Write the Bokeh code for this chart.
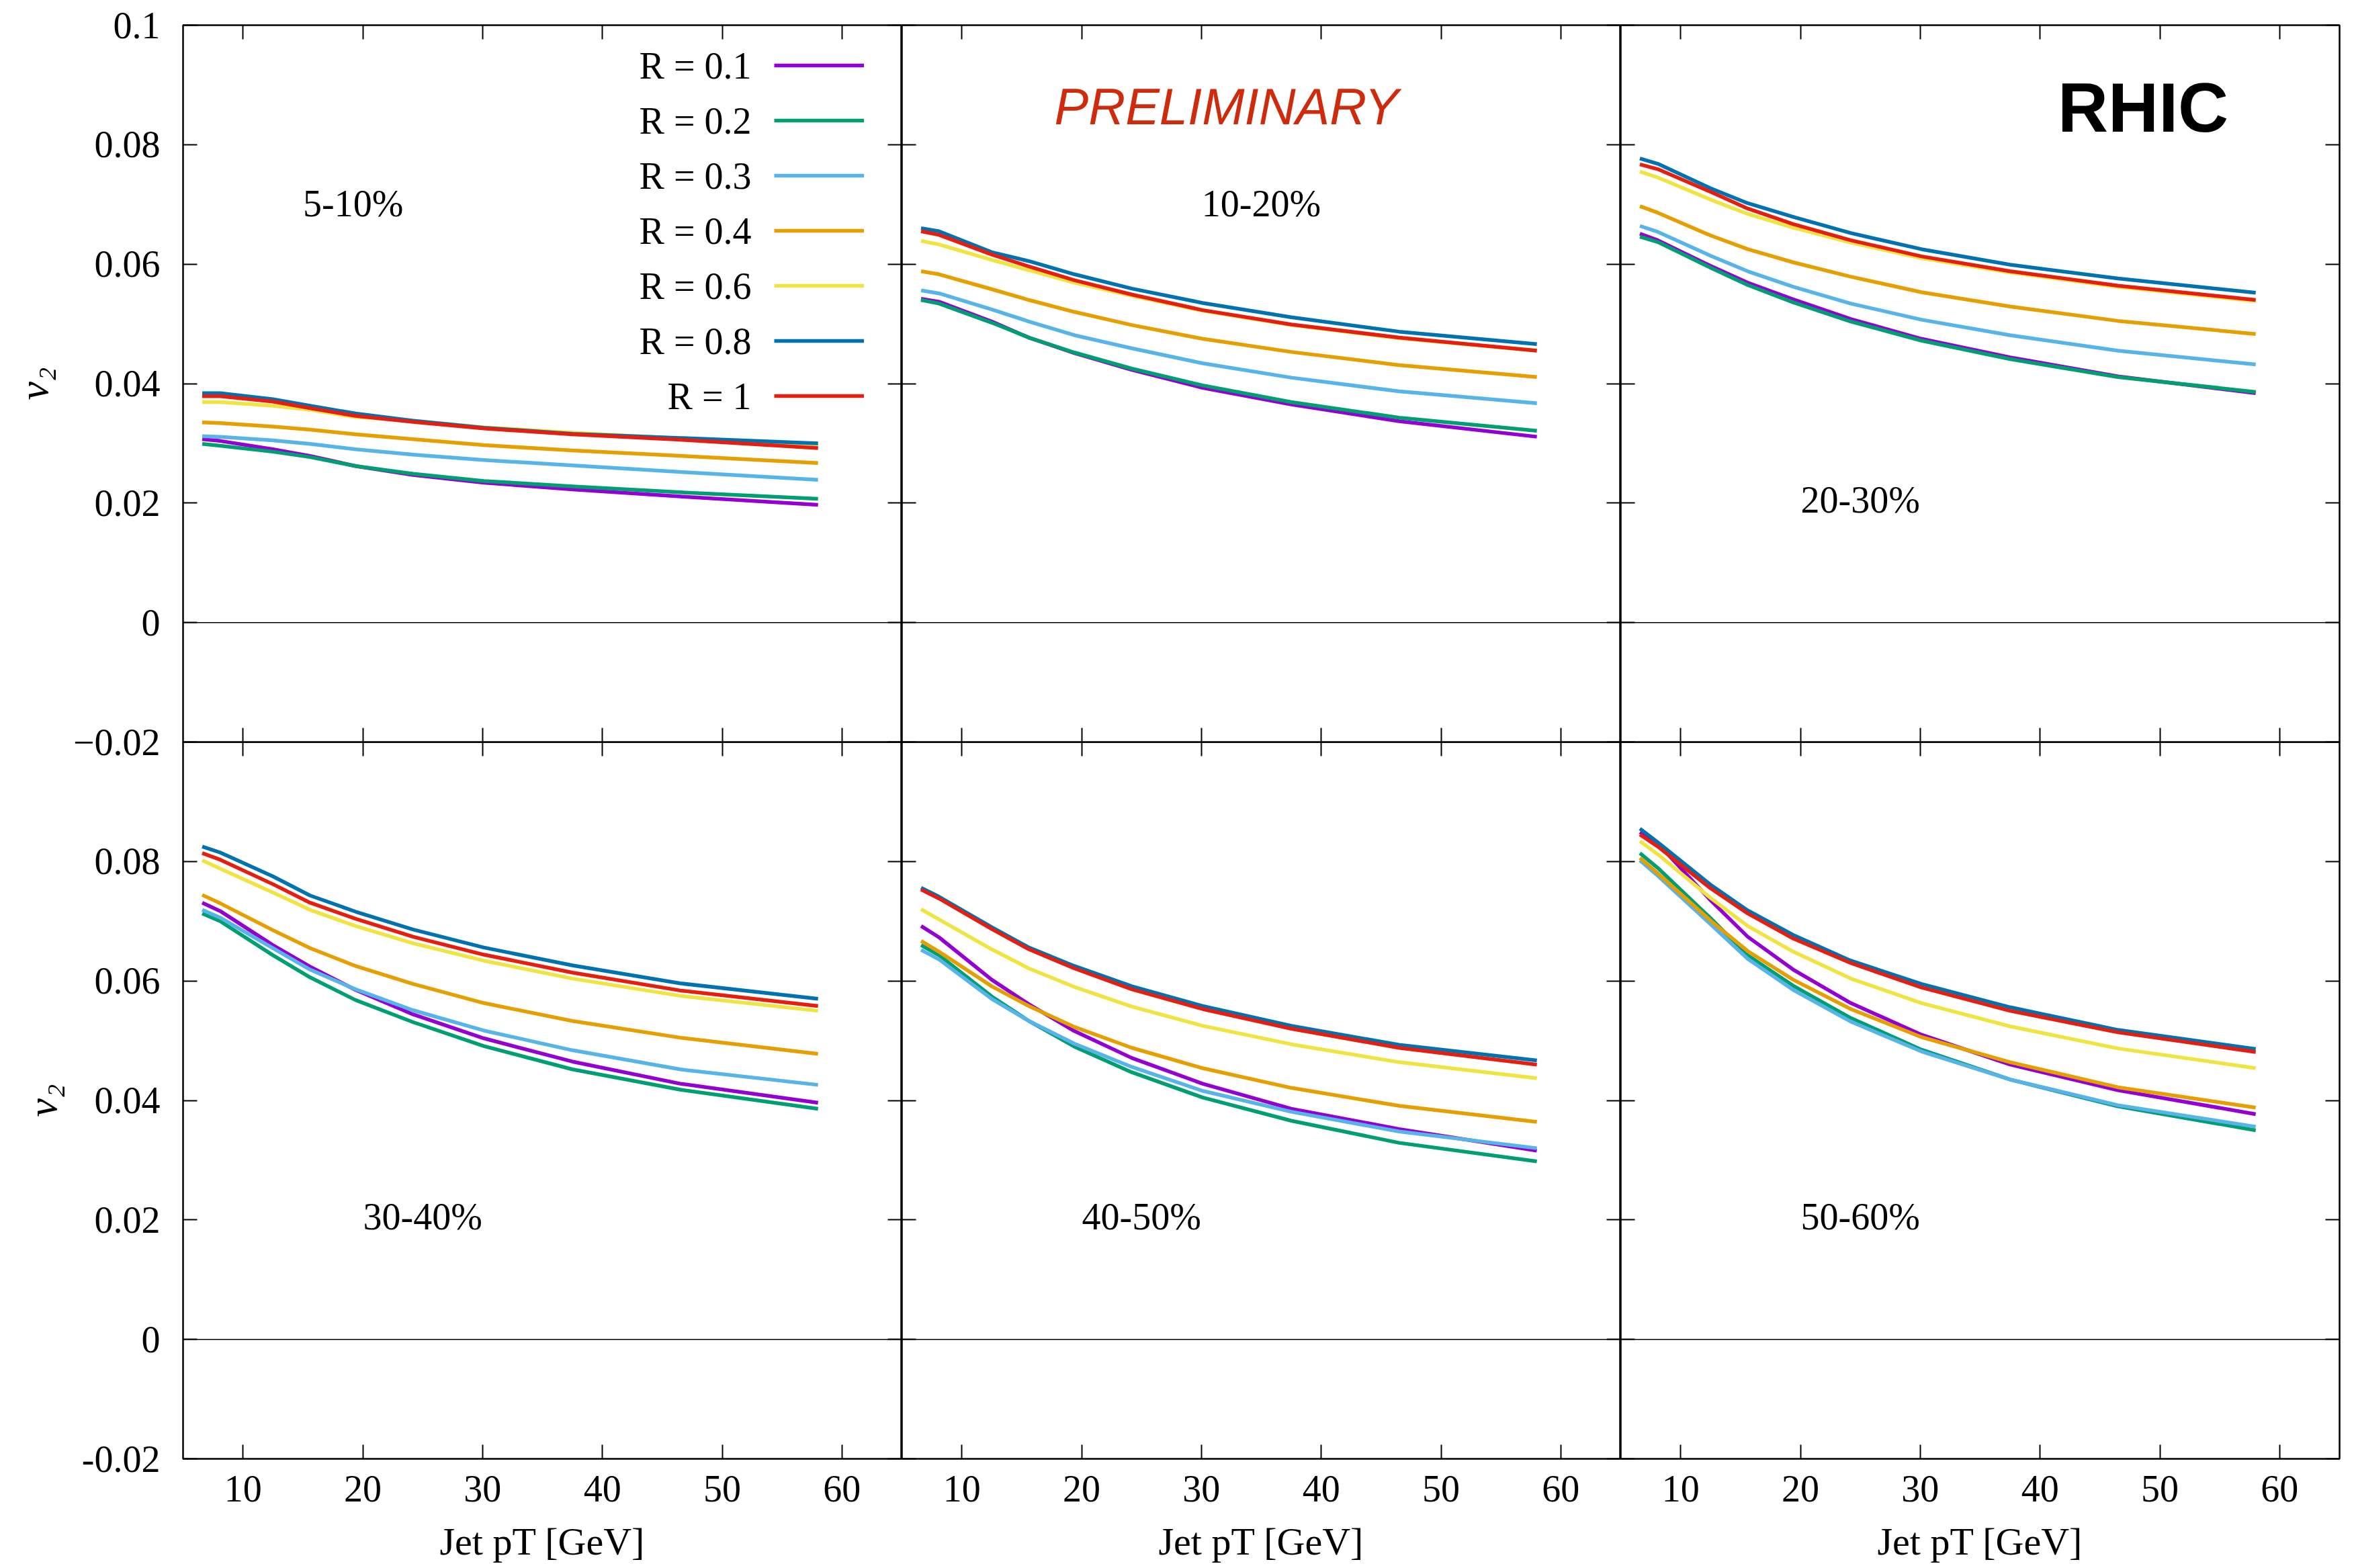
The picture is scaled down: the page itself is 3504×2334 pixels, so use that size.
from bokeh.plotting import figure
from bokeh.layouts import row, column
from bokeh.models import (Range1d, FixedTicker, LinearAxis, Span, Label,
                          Legend, LegendItem)
from bokeh.embed import file_html
from bokeh.resources import INLINE

# ---------------- data ----------------
jet_pt = [6.6, 8.1, 12.5, 15.6, 19.4, 24.2, 30.1, 37.5, 46.5, 58.0]
radius_labels = ["R = 0.1", "R = 0.2", "R = 0.3", "R = 0.4", "R = 0.6", "R = 0.8", "R = 1"]
line_colors = ["#9400d3", "#009e73", "#56b4e9", "#e69f00", "#f0e442", "#0072b2", "#e51e10"]
centralities = ["5-10%", "10-20%", "20-30%", "30-40%", "40-50%", "50-60%"]
x_ticks = [10, 20, 30, 40, 50, 60]
y_ticks = [-0.02, 0, 0.02, 0.04, 0.06, 0.08, 0.1]
y_tick_text_top = {0.1: "0.1", 0.08: "0.08", 0.06: "0.06", 0.04: "0.04", 0.02: "0.02", 0: "0", -0.02: "\u22120.02"}
y_tick_text_bottom = {0.1: "", 0.08: "0.08", 0.06: "0.06", 0.04: "0.04", 0.02: "0.02", 0: "0", -0.02: "-0.02"}

# v2 for R = 0.1, 0.2, 0.3, 0.4, 0.6, 0.8, 1 (one list per radius)
v2_5_10 = [
    [0.0307, 0.0304, 0.0290, 0.0279, 0.0262, 0.0247, 0.0234, 0.0223, 0.0211, 0.0197],
    [0.0299, 0.0296, 0.0286, 0.0277, 0.0262, 0.0249, 0.0237, 0.0228, 0.0218, 0.0207],
    [0.0312, 0.0311, 0.0305, 0.0299, 0.0290, 0.0281, 0.0272, 0.0263, 0.0252, 0.0239],
    [0.0335, 0.0334, 0.0328, 0.0323, 0.0315, 0.0307, 0.0297, 0.0288, 0.0279, 0.0267],
    [0.0369, 0.0369, 0.0363, 0.0356, 0.0344, 0.0338, 0.0327, 0.0318, 0.0308, 0.0296],
    [0.0384, 0.0384, 0.0374, 0.0363, 0.0350, 0.0338, 0.0326, 0.0316, 0.0309, 0.0300],
    [0.0379, 0.0379, 0.0370, 0.0359, 0.0346, 0.0336, 0.0325, 0.0315, 0.0306, 0.0292],
]
v2_10_20 = [
    [0.0542, 0.0537, 0.0504, 0.0477, 0.0451, 0.0423, 0.0393, 0.0365, 0.0337, 0.0311],
    [0.0540, 0.0534, 0.0502, 0.0477, 0.0452, 0.0425, 0.0397, 0.0369, 0.0343, 0.0321],
    [0.0556, 0.0551, 0.0524, 0.0504, 0.0481, 0.0459, 0.0434, 0.0410, 0.0387, 0.0367],
    [0.0588, 0.0583, 0.0558, 0.0540, 0.0520, 0.0498, 0.0475, 0.0453, 0.0431, 0.0411],
    [0.0639, 0.0633, 0.0607, 0.0590, 0.0569, 0.0547, 0.0522, 0.0498, 0.0476, 0.0455],
    [0.0660, 0.0655, 0.0620, 0.0605, 0.0583, 0.0559, 0.0535, 0.0511, 0.0487, 0.0466],
    [0.0655, 0.0649, 0.0616, 0.0596, 0.0573, 0.0549, 0.0523, 0.0499, 0.0477, 0.0455],
]
v2_20_30 = [
    [0.0651, 0.0640, 0.0597, 0.0569, 0.0541, 0.0508, 0.0475, 0.0444, 0.0412, 0.0384],
    [0.0646, 0.0637, 0.0594, 0.0565, 0.0536, 0.0504, 0.0472, 0.0441, 0.0411, 0.0386],
    [0.0664, 0.0654, 0.0614, 0.0588, 0.0562, 0.0534, 0.0507, 0.0481, 0.0455, 0.0432],
    [0.0697, 0.0686, 0.0648, 0.0625, 0.0603, 0.0579, 0.0553, 0.0529, 0.0505, 0.0483],
    [0.0755, 0.0745, 0.0708, 0.0684, 0.0661, 0.0636, 0.0610, 0.0586, 0.0562, 0.0538],
    [0.0777, 0.0768, 0.0727, 0.0702, 0.0679, 0.0652, 0.0625, 0.0599, 0.0576, 0.0552],
    [0.0767, 0.0759, 0.0721, 0.0693, 0.0667, 0.0640, 0.0613, 0.0588, 0.0564, 0.0540],
]
v2_30_40 = [
    [0.0731, 0.0717, 0.0660, 0.0624, 0.0585, 0.0544, 0.0504, 0.0465, 0.0428, 0.0396],
    [0.0713, 0.0700, 0.0643, 0.0606, 0.0568, 0.0531, 0.0491, 0.0452, 0.0418, 0.0386],
    [0.0719, 0.0706, 0.0655, 0.0619, 0.0586, 0.0551, 0.0517, 0.0484, 0.0452, 0.0426],
    [0.0744, 0.0730, 0.0685, 0.0655, 0.0625, 0.0595, 0.0563, 0.0533, 0.0505, 0.0478],
    [0.0802, 0.0788, 0.0748, 0.0719, 0.0692, 0.0663, 0.0634, 0.0604, 0.0575, 0.0550],
    [0.0825, 0.0815, 0.0775, 0.0743, 0.0716, 0.0686, 0.0656, 0.0626, 0.0596, 0.0570],
    [0.0814, 0.0803, 0.0762, 0.0731, 0.0704, 0.0674, 0.0644, 0.0614, 0.0584, 0.0558],
]
v2_40_50 = [
    [0.0692, 0.0673, 0.0602, 0.0561, 0.0516, 0.0471, 0.0428, 0.0386, 0.0352, 0.0316],
    [0.0660, 0.0643, 0.0574, 0.0533, 0.0490, 0.0447, 0.0405, 0.0366, 0.0329, 0.0298],
    [0.0652, 0.0636, 0.0570, 0.0533, 0.0495, 0.0456, 0.0416, 0.0381, 0.0348, 0.0320],
    [0.0667, 0.0649, 0.0591, 0.0558, 0.0523, 0.0488, 0.0454, 0.0421, 0.0391, 0.0364],
    [0.0720, 0.0703, 0.0653, 0.0621, 0.0590, 0.0557, 0.0525, 0.0494, 0.0464, 0.0437],
    [0.0756, 0.0741, 0.0690, 0.0656, 0.0625, 0.0591, 0.0558, 0.0525, 0.0493, 0.0467],
    [0.0753, 0.0738, 0.0687, 0.0653, 0.0621, 0.0586, 0.0553, 0.0520, 0.0488, 0.0460],
]
v2_50_60 = [
    [0.0849, 0.0830, 0.0735, 0.0674, 0.0619, 0.0563, 0.0510, 0.0460, 0.0417, 0.0377],
    [0.0814, 0.0789, 0.0705, 0.0643, 0.0592, 0.0538, 0.0485, 0.0435, 0.0390, 0.0350],
    [0.0802, 0.0776, 0.0695, 0.0637, 0.0585, 0.0532, 0.0482, 0.0435, 0.0392, 0.0356],
    [0.0806, 0.0780, 0.0701, 0.0650, 0.0602, 0.0553, 0.0506, 0.0464, 0.0422, 0.0388],
    [0.0834, 0.0812, 0.0739, 0.0692, 0.0649, 0.0604, 0.0563, 0.0524, 0.0487, 0.0454],
    [0.0855, 0.0832, 0.0761, 0.0718, 0.0677, 0.0634, 0.0595, 0.0556, 0.0518, 0.0486],
    [0.0845, 0.0825, 0.0755, 0.0713, 0.0671, 0.0630, 0.0589, 0.0550, 0.0514, 0.0481],
]
panels_v2 = [v2_5_10, v2_10_20, v2_20_30, v2_30_40, v2_40_50, v2_50_60]

# ---------------- layout / style ----------------
FW, FH = 1070, 1067
LEFT, RIGHT, TOP, BOTTOM = 272, 22, 37, 163
OVERLAP = 30          # spare room under the top row, covered by the bottom row
XR = (5, 65)
YR = (-0.02, 0.1)
SERIF = "Liberation Serif"
SANS = "Liberation Sans"
FS = "56px"
label_pos = [(19.2, 0.0701), (35.0, 0.0701), (25.0, 0.0205),
             (25.0, 0.0205), (25.0, 0.0205), (25.0, 0.0205)]


def style_axis(ax, ticks, labels=None, standoff=0):
    ax.ticker = FixedTicker(ticks=ticks)
    ax.major_tick_in = 21
    ax.major_tick_out = 0
    ax.major_tick_line_width = 2
    ax.major_tick_line_color = "black"
    ax.minor_tick_line_color = None
    ax.axis_line_color = None
    if labels is None:
        ax.major_label_overrides = {t: "" for t in ticks}
        ax.major_label_text_font_size = "0px"
        ax.major_label_standoff = 0
    else:
        ax.major_label_overrides = labels
        ax.major_label_text_font = SERIF
        ax.major_label_text_font_size = FS
        ax.major_label_text_color = "black"
        ax.major_label_standoff = standoff


def make_panel(idx):
    r_, col = divmod(idx, 3)
    p = figure(frame_width=FW, frame_height=FH,
               x_range=Range1d(*XR), y_range=Range1d(*YR),
               x_axis_location=None, y_axis_location=None,
               output_backend="svg", toolbar_location=None,
               min_border_left=LEFT if col == 0 else 0,
               min_border_right=RIGHT if col == 2 else 0,
               min_border_top=TOP if r_ == 0 else 0,
               min_border_bottom=BOTTOM if r_ == 1 else OVERLAP)
    p.grid.visible = False
    p.outline_line_color = "black"
    p.outline_line_width = 2.5
    p.outline_line_alpha = 1
    p.background_fill_color = None
    p.border_fill_color = None

    left = LinearAxis()
    if col == 0:
        style_axis(left, y_ticks, y_tick_text_top if r_ == 0 else y_tick_text_bottom, 34)
        left.axis_label = "v\u2082"
        left.axis_label_text_font = SERIF
        left.axis_label_text_font_style = "italic"
        left.axis_label_text_font_size = "62px"
        left.axis_label_text_color = "black"
        left.axis_label_standoff = 22
    else:
        style_axis(left, y_ticks)
    p.add_layout(left, "left")
    right = LinearAxis()
    style_axis(right, y_ticks)
    p.add_layout(right, "right")
    below = LinearAxis()
    if r_ == 1:
        style_axis(below, x_ticks, {t: str(t) for t in x_ticks}, 25)
        below.axis_label = "Jet pT [GeV]"
        below.axis_label_text_font = SERIF
        below.axis_label_text_font_style = "normal"
        below.axis_label_text_font_size = "58px"
        below.axis_label_text_color = "black"
        below.axis_label_standoff = 24
    else:
        style_axis(below, x_ticks)
    p.add_layout(below, "below")
    above = LinearAxis()
    style_axis(above, x_ticks)
    p.add_layout(above, "above")

    p.add_layout(Span(location=0, dimension="width", line_color="black", line_width=1.5))

    renderers = []
    for vals, c in zip(panels_v2[idx], line_colors):
        rr = p.line(jet_pt, vals, line_color=c, line_width=5.5, line_join="round")
        renderers.append(rr)

    lx, ly = label_pos[idx]
    p.add_layout(Label(x=lx, y=ly, text=centralities[idx], text_align="center",
                       text_baseline="alphabetic", text_font=SERIF, text_font_size=FS,
                       text_color="black"))
    return p, renderers


figs = []
for i in range(6):
    p, rends = make_panel(i)
    figs.append(p)
    if i == 0:
        vx, vy, gw, gh = 880, 474, 134, 82
        items = [LegendItem(label=" ", renderers=[r]) for r in rends]
        leg = Legend(items=items, location=(vx, vy), glyph_width=gw, glyph_height=gh,
                     spacing=0, padding=0, margin=0, label_standoff=0, label_width=0,
                     label_height=0, label_text_font_size="1px",
                     border_line_color=None, background_fill_alpha=0)
        p.add_layout(leg)
        ppd_x = FW / (XR[1] - XR[0])
        ppd_y = FH / (YR[1] - YR[0])
        top_px = FH - vy - len(items) * gh
        tx = XR[0] + (vx - 34) / ppd_x
        for k, lab in enumerate(radius_labels):
            ty = YR[1] - (top_px + gh / 2 + gh * k) / ppd_y
            p.add_layout(Label(x=tx, y=ty, text=lab, text_align="right",
                               text_baseline="middle", text_font=SERIF,
                               text_font_size=FS, text_color="black"))
    if i == 1:
        p.add_layout(Label(x=32.1, y=0.0864, text="PRELIMINARY", text_align="center",
                           text_baseline="alphabetic", text_font=SANS,
                           text_font_style="italic", text_font_size="76px",
                           text_color="#d02a0c"))
    if i == 2:
        p.add_layout(Label(x=48.6, y=0.0862, text="RHIC", text_align="center",
                           text_baseline="alphabetic", text_font=SANS,
                           text_font_style="bold", text_font_size="104px",
                           text_color="black"))

top_row = row(figs[0], figs[1], figs[2], spacing=0)
bottom_row = row(figs[3], figs[4], figs[5], spacing=0, margin=(-OVERLAP, 0, 0, 0))
layout = column(top_row, bottom_row, spacing=0)

open("out.html", "w").write(file_html(layout, INLINE))
